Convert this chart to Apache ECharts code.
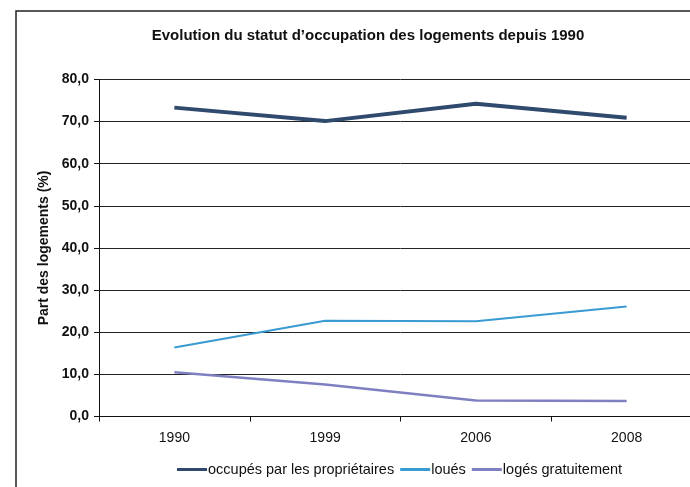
<!DOCTYPE html>
<html>
<head>
<meta charset="utf-8">
<script src="https://cdn.jsdelivr.net/npm/echarts@6/dist/echarts.min.js"></script>
<style>
  html, body { margin: 0; padding: 0; background: #fff; overflow: hidden; }
  /* the plot area runs past the right edge of the window */
  #chart { width: 702px; height: 487px; }
</style>
</head>
<body>
<div id="chart"></div>
<script>
// Years shown on the category axis
const years = ['1990', '1999', '2006', '2008'];

// Share of dwellings by tenure status (%)
const proprietaires = [73.3, 70.1, 74.2, 70.9];
const loues = [16.4, 22.7, 22.6, 26.1];
const logesGratuitement = [10.5, 7.6, 3.8, 3.7];

// Y axis bounds and step
const yMin = 0;
const yMax = 80;
const yStep = 10;

const seriesNames = ['occupés par les propriétaires', 'loués', 'logés gratuitement'];
const seriesColors = ['#2f4a6d', '#3a9ad2', '#7f80c2'];
const seriesWidths = [4, 2, 2.5];
const seriesData = [proprietaires, loues, logesGratuitement];

const chart = echarts.init(document.getElementById('chart'), null, { renderer: 'canvas' });

const font = 'Arial, "Liberation Sans", sans-serif';

chart.setOption({
  animation: false,
  backgroundColor: '#ffffff',
  title: {
    text: 'Evolution du statut d\u2019occupation des logements depuis 1990',
    left: 363,
    textAlign: 'center',
    top: 23,
    textStyle: { fontFamily: font, fontSize: 15, fontWeight: 'bold', color: '#111' }
  },
  graphic: [
    {
      type: 'rect',
      shape: { x: 16, y: 11, width: 720, height: 500 },
      style: { fill: 'none', stroke: '#222', lineWidth: 1.5 },
      silent: true
    }
  ],
  legend: {
    data: seriesNames,
    left: 172,
    top: 457,
    icon: 'rect',
    itemWidth: 30,
    itemHeight: 3,
    itemGap: 6,
    textStyle: { fontFamily: font, fontSize: 14.5, color: '#111', padding: [0, 0, 0, -4] }
  },
  grid: {
    left: 99,
    top: 79.4,
    right: 0,
    bottom: 70.5,
    containLabel: false
  },
  xAxis: {
    type: 'category',
    data: years,
    boundaryGap: true,
    axisLine: { show: true, lineStyle: { color: '#111', width: 1 } },
    axisTick: { show: true, length: 5, lineStyle: { color: '#111' } },
    axisLabel: { fontFamily: font, fontSize: 14, color: '#111', margin: 15 },
    splitLine: { show: false }
  },
  yAxis: {
    type: 'value',
    min: yMin,
    max: yMax,
    interval: yStep,
    name: 'Part des logements (%)',
    nameLocation: 'middle',
    nameGap: 44,
    nameTextStyle: { fontFamily: font, fontSize: 14, fontWeight: 'bold', color: '#111' },
    axisLine: { show: true, lineStyle: { color: '#111', width: 1 } },
    axisTick: { show: true, length: 5, lineStyle: { color: '#111' } },
    axisLabel: {
      fontFamily: font, fontSize: 14, fontWeight: 'bold', color: '#111', margin: 10,
      formatter: v => v.toFixed(1).replace('.', ',')
    },
    splitLine: { show: true, lineStyle: { color: '#222', width: 1 } }
  },
  series: seriesData.map((d, i) => ({
    name: seriesNames[i],
    type: 'line',
    data: d,
    symbol: 'none',
    color: seriesColors[i],
    lineStyle: { color: seriesColors[i], width: seriesWidths[i] },
    itemStyle: { color: seriesColors[i] },
    z: 3 - i
  }))
});
</script>
</body>
</html>
